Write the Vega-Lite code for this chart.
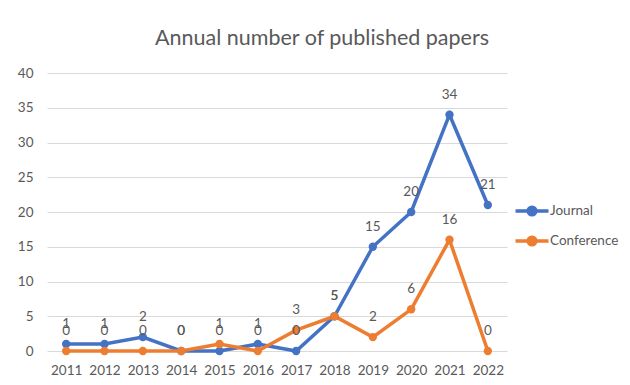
{
  "$schema": "https://vega.github.io/schema/vega-lite/v6.json",
  "autosize": "none",
  "width": 460,
  "height": 278,
  "padding": {"left": 47, "top": 73, "right": 123, "bottom": 34},
  "background": "white",
  "title": {"text": "Annual number of published papers", "anchor": "middle", "frame": "group", "dx": 45, "offset": 17, "fontSize": 21.5, "font": "Lato", "fontWeight": "normal", "color": "#595959"},
  "config": {
    "view": {"stroke": null},
    "font": "Lato",
    "axis": {"labelFont": "Lato", "labelFontSize": 13.5, "labelColor": "#595959", "ticks": false, "domain": false, "title": null, "gridColor": "#d9d9d9", "gridWidth": 1.2}
  },
  "data": {"values": [
    {"year": "2011", "series": "Journal", "count": 1},
    {"year": "2012", "series": "Journal", "count": 1},
    {"year": "2013", "series": "Journal", "count": 2},
    {"year": "2014", "series": "Journal", "count": 0},
    {"year": "2015", "series": "Journal", "count": 0},
    {"year": "2016", "series": "Journal", "count": 1},
    {"year": "2017", "series": "Journal", "count": 0},
    {"year": "2018", "series": "Journal", "count": 5},
    {"year": "2019", "series": "Journal", "count": 15},
    {"year": "2020", "series": "Journal", "count": 20},
    {"year": "2021", "series": "Journal", "count": 34},
    {"year": "2022", "series": "Journal", "count": 21},
    {"year": "2011", "series": "Conference", "count": 0},
    {"year": "2012", "series": "Conference", "count": 0},
    {"year": "2013", "series": "Conference", "count": 0},
    {"year": "2014", "series": "Conference", "count": 0},
    {"year": "2015", "series": "Conference", "count": 1},
    {"year": "2016", "series": "Conference", "count": 0},
    {"year": "2017", "series": "Conference", "count": 3},
    {"year": "2018", "series": "Conference", "count": 5},
    {"year": "2019", "series": "Conference", "count": 2},
    {"year": "2020", "series": "Conference", "count": 6},
    {"year": "2021", "series": "Conference", "count": 16},
    {"year": "2022", "series": "Conference", "count": 0}
  ]},
  "encoding": {
    "x": {"field": "year", "type": "ordinal", "scale": {"type": "point", "padding": 0.5}, "axis": {"labelAngle": 0, "labelPadding": 12, "grid": false}},
    "y": {"field": "count", "type": "quantitative", "scale": {"domain": [0, 40], "nice": false}, "axis": {"values": [0, 5, 10, 15, 20, 25, 30, 35, 40], "labelPadding": 14, "grid": true}},
    "color": {"field": "series", "type": "nominal", "sort": ["Journal", "Conference"],
      "scale": {"domain": ["Journal", "Conference"], "range": ["#4472C4", "#ED7D31"]},
      "legend": {"title": null, "orient": "none", "legendX": 472, "legendY": 125, "padding": 0, "labelFont": "Lato", "labelFontSize": 13.5, "labelColor": "#595959", "labelOffset": 5, "rowPadding": 6, "symbolSize": 484,
        "encode": {"symbols": {"update": {"shape": {"value": "M-1.5,0H1.5M0.35,0A0.35,0.35 0 1,1 -0.35,0A0.35,0.35 0 1,1 0.35,0Z"}, "fill": {"scale": "color", "field": "value"}, "stroke": {"scale": "color", "field": "value"}, "strokeWidth": {"value": 3.5}, "opacity": {"value": 1}}}}}
    }
  },
  "layer": [
    {"mark": {"type": "line", "strokeWidth": 3.5, "point": {"filled": true, "size": 70, "opacity": 1}}},
    {"mark": {"type": "text", "dy": -20, "fontSize": 13.5, "font": "Lato", "color": "#595959"}, "encoding": {"text": {"field": "count", "type": "quantitative"}, "color": {"value": "#595959"}}}
  ]
}
